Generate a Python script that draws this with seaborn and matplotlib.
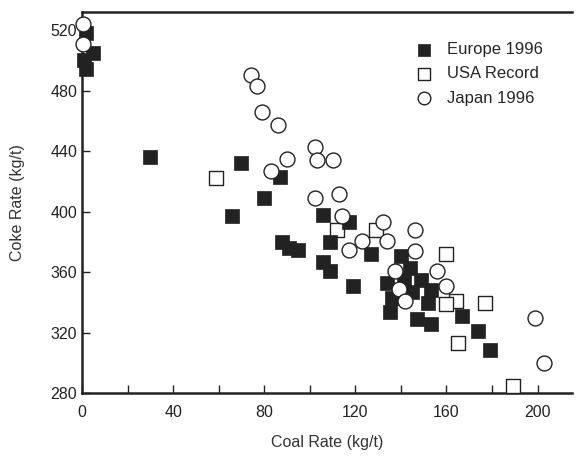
import matplotlib
matplotlib.use("Agg")
import matplotlib.pyplot as plt
from matplotlib.ticker import MultipleLocator
import numpy as np
import pandas as pd
import seaborn as sns

sns.set_style("ticks")
plt.rcParams['font.family'] = ['Liberation Sans Narrow', 'Liberation Sans', 'DejaVu Sans']

# valeurs (coal rate kg/t, coke rate kg/t)
europe_coal = [2, 5, 1, 2, 30, 70, 66, 87, 80, 106, 117, 109, 88, 91, 95, 106, 109,
               119, 127, 134, 136, 135, 140, 144, 141.5, 149, 145, 153, 152, 147,
               153, 167, 174, 179]
europe_coke = [518, 505, 500, 494, 436, 432, 397, 423, 409, 398, 393, 380, 380, 376,
               375, 367, 361, 351, 372, 353, 343, 334, 371, 363, 355, 355, 347, 348,
               340, 329, 326, 331, 321, 309]

usa_coal = [59, 112, 129, 160, 164, 160, 177, 165, 189]
usa_coke = [422, 388, 388, 372, 341, 339, 340, 313, 285]

japan_coal = [0.5, 0.5, 74, 77, 79, 86, 90, 83, 102.5, 103, 110, 102.5, 113, 114,
              117, 123, 132, 134, 146, 146, 137.5, 139, 142, 156, 160, 199, 203]
japan_coke = [524, 511, 490, 483, 466, 457, 435, 427, 443, 434, 434, 409, 412, 397,
              375, 381, 393, 381, 388, 374, 361, 349, 341, 361, 351, 330, 300]

dark = "#222222"

fig = plt.figure(figsize=(5.77, 4.58), dpi=100)
ax = fig.add_axes([0.142, 0.141, 0.849, 0.833])

df_usa = pd.DataFrame({"coal": usa_coal, "coke": usa_coke})
df_eur = pd.DataFrame({"coal": europe_coal, "coke": europe_coke})
df_jap = pd.DataFrame({"coal": japan_coal, "coke": japan_coke})

# ordre de trace : USA, Europe, Japon (cercles au dessus)
sns.scatterplot(data=df_usa, x="coal", y="coke", ax=ax, marker="s", s=100,
                color="white", edgecolor=dark, linewidth=1.0, label="USA Record",
                zorder=3, clip_on=False)
sns.scatterplot(data=df_eur, x="coal", y="coke", ax=ax, marker="s", s=100,
                color=dark, edgecolor=dark, linewidth=0.5, label="Europe 1996",
                zorder=4, clip_on=False)
sns.scatterplot(data=df_jap, x="coal", y="coke", ax=ax, marker="o", s=115,
                color="white", edgecolor=dark, linewidth=1.0, label="Japan 1996",
                zorder=5, clip_on=False)

ax.set_xlim(0, 215)
ax.set_ylim(280, 532)
ax.xaxis.set_major_locator(MultipleLocator(40))
ax.xaxis.set_minor_locator(MultipleLocator(20))
ax.set_yticks([280, 320, 360, 400, 440, 480, 520])

ax.tick_params(axis="both", which="both", direction="in", length=6, width=1,
               color=dark, labelsize=11.5, labelcolor=dark)
ax.tick_params(axis="x", which="major", pad=8)

for side in ["left", "bottom", "top"]:
    ax.spines[side].set_linewidth(1.8)
    ax.spines[side].set_color(dark)
ax.spines["right"].set_visible(False)

ax.set_xlabel("Coal Rate (kg/t)", fontsize=11.5, color="#333333", labelpad=11)
ax.set_ylabel("Coke Rate (kg/t)", fontsize=11.5, color="#333333", labelpad=18)

# légende : Europe, USA, Japon
h, l = ax.get_legend_handles_labels()
order = [l.index("Europe 1996"), l.index("USA Record"), l.index("Japan 1996")]
ax.legend([h[i] for i in order], [l[i] for i in order], frameon=False,
          loc="upper left", bbox_to_anchor=(0.633, 0.96), fontsize=12,
          markerscale=0.85, handletextpad=0.4, labelspacing=0.55)

fig.savefig("out.png", dpi=100)
